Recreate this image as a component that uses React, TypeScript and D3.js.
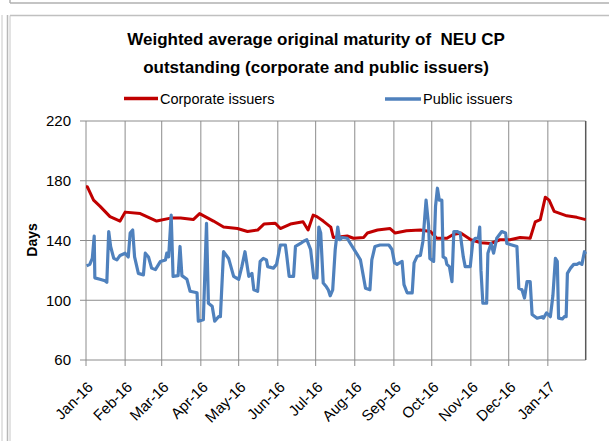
import React from 'react';
import * as d3 from 'd3';

// days since 1 Jan 2016
const corpDays = [0, 1, 6, 11, 19, 27, 31, 43, 56, 67, 75, 85, 90, 101, 109, 120, 128, 136, 141, 150, 154, 162, 172, 176, 180, 183, 188, 194, 196, 202, 207, 212, 220, 223, 231, 241, 245, 254, 265, 273, 278, 286, 291, 297, 305, 313, 321, 328, 336, 344, 352, 356, 360, 362, 364, 367, 371, 376, 381, 389, 396];
const corpValues = [176, 176, 167, 163, 156, 153, 159, 158, 153, 155, 155, 154, 158, 153, 149, 148, 146, 147, 151, 151.5, 148, 151, 152.5, 147, 157, 156, 153, 149, 142, 142.5, 143, 141.5, 142, 145, 147, 148, 145, 146.5, 147, 146, 141.5, 141.5, 144, 145, 140.5, 138.5, 138, 140.5, 140.5, 142, 141.5, 152.5, 154, 161.5, 169, 167, 159.5, 158, 156.5, 155.5, 154];

const publicDays = [0.5, 3, 5, 6.5, 7, 11, 15, 16.5, 18, 19.5, 22, 24.5, 27, 31, 33.5, 35, 37, 38.5, 41.5, 45.5, 47, 49.5, 52, 55, 59, 63, 64, 65.5, 67.5, 69, 73, 74.5, 76, 80, 82.5, 88, 89, 93, 95.5, 97, 100, 102, 105, 106.5, 109, 113, 117, 121, 123.5, 126, 129, 131.5, 133, 136, 138, 140.5, 143, 144, 148.5, 151, 154, 158, 159, 161, 164.5, 166, 170, 172.5, 175, 178, 180.5, 183, 184.5, 186, 188, 190.5, 192, 193.5, 195.5, 197.5, 199.5, 201, 203, 207, 209.5, 215, 217.5, 221.5, 225, 226.5, 229, 233, 240, 242.5, 244.5, 246.5, 250.5, 252, 254.5, 258.5, 260, 262.5, 265, 267, 269.5, 271.5, 272.5, 275.5, 277, 278.5, 280, 282, 283, 285, 286, 288, 290, 291.5, 294, 296.5, 299, 300.5, 304.5, 306.5, 308.5, 311, 312, 313, 314.5, 317.5, 318.5, 321, 323, 325.5, 329.5, 332.5, 333.5, 337.5, 341.5, 343, 345.5, 347.5, 349.5, 352, 353.5, 357.5, 361.5, 362.5, 365, 368, 370, 372, 373.5, 374.5, 377.5, 379, 380.5, 381.5, 384, 386.5, 389, 391, 393, 395, 396];
const publicValues = [123, 124, 128, 143, 115, 114, 113, 112, 146, 136, 128, 127, 130, 131.5, 129, 145, 147, 129, 118, 117, 131.5, 129, 121.5, 120.5, 126, 127, 131.5, 129, 157, 116, 116.5, 136, 116.5, 114, 106, 105, 86, 87, 151.5, 98, 96, 86, 89, 89, 132.5, 128, 116, 114, 122.5, 132.5, 116, 118, 107, 106, 126, 128, 127, 122.5, 121.5, 124, 137, 137, 130.5, 116, 116, 136, 138, 139.5, 140.5, 134, 115, 115, 149, 145, 111.5, 109, 107, 103, 107, 134, 149, 140.5, 142, 141.5, 138, 130.5, 127, 108, 107, 127, 136, 137, 137, 134, 125, 124, 126, 110.5, 105, 105, 125, 129.5, 130, 139.5, 167, 150, 128, 126, 163, 175, 167, 167, 129, 128, 124, 122.5, 112.5, 146, 146, 145, 129, 122.5, 122.5, 139, 141.5, 141.5, 149, 120, 98, 98, 131.5, 138, 131.5, 141.5, 146, 145, 138, 137, 136, 108, 107, 101.5, 112.5, 112.5, 90.5, 88, 89, 88, 91.5, 89, 103, 128, 126, 88, 87.5, 89, 89, 118, 121.5, 124, 124, 125, 124, 132.5, 131];

const yTicks = [60, 100, 140, 180, 220];
const monthTicks = ['2016-01', '2016-02', '2016-03', '2016-04', '2016-05', '2016-06', '2016-07', '2016-08', '2016-09', '2016-10', '2016-11', '2016-12', '2017-01'];
const titleLines = ['Weighted average original maturity of  NEU CP', 'outstanding (corporate and public issuers)'];

const start = new Date(2016, 0, 1);
const toDate = (d: number) => new Date(start.getTime() + d * 86400000);
const parseMonth = d3.timeParse('%Y-%m');
const fmt = d3.timeFormat('%b-%y');

const font = "'Liberation Sans', Arial, sans-serif";

export default function App() {
  const W = 609, H = 441;
  const left = 86, right = 585.7, top = 121, bottom = 360;

  const x = d3.scaleTime().domain([start, new Date(2017, 0, 31)]).range([left, right]);
  const y = d3.scaleLinear().domain([60, 220]).range([bottom, top]);

  const line = d3.line<[number, number]>()
    .x(d => x(toDate(d[0])))
    .y(d => y(d[1]));

  const corp = corpDays.map((d, i) => [d, corpValues[i]] as [number, number]);
  const pub = publicDays.map((d, i) => [d, publicValues[i]] as [number, number]);
  const months = monthTicks.map(m => parseMonth(m)!);

  return (
    <>
      <style>{`body{margin:0}`}</style>
      <svg width={W} height={H} style={{ display: 'block', background: '#fff' }}>
        {/* page frame bits */}
        <line x1={10} x2={W} y1={3} y2={3} stroke="#b0b0b0" strokeWidth={1.5} />
        <line x1={10} x2={10} y1={0} y2={3} stroke="#b0b0b0" strokeWidth={1.5} />
        <line x1={2} x2={2} y1={15} y2={H} stroke="#c8c8c8" strokeWidth={1} />
        <line x1={7.5} x2={7.5} y1={15} y2={H} stroke="#b8b8b8" strokeWidth={1.5} />
        <line x1={10} x2={W} y1={15.5} y2={15.5} stroke="#c0c0c0" strokeWidth={1.5} />
        <line x1={10} x2={10} y1={15.5} y2={H} stroke="#c8c8c8" strokeWidth={1} />

        {/* title */}
        {titleLines.map((t, i) => (
          <text key={t} x={316} y={45 + i * 28} textAnchor="middle" fontFamily={font}
            fontWeight="bold" fontSize={17} fill="#000" style={{ whiteSpace: 'pre' }}>{t}</text>
        ))}

        {/* legend */}
        <line x1={124} x2={158} y1={98.5} y2={98.5} stroke="#C00000" strokeWidth={3.5} />
        <text x={160} y={103.5} fontFamily={font} fontSize={14.5} fill="#000">Corporate issuers</text>
        <line x1={385} x2={421} y1={99} y2={99} stroke="#4F81BD" strokeWidth={3.5} />
        <text x={423} y={103.5} fontFamily={font} fontSize={14.5} fill="#000">Public issuers</text>

        {/* grid */}
        {yTicks.map(t => (
          <g key={t}>
            <line x1={left - 6} x2={right} y1={y(t)} y2={y(t)} stroke="#8c8c8c" strokeWidth={1} />
            <text x={71} y={y(t)} dy="0.35em" textAnchor="end" fontFamily={font} fontSize={15} fill="#000">{t}</text>
          </g>
        ))}
        {months.map(m => (
          <g key={m.getTime()}>
            <line x1={x(m)} x2={x(m)} y1={top} y2={bottom + 6} stroke="#8c8c8c" strokeWidth={1} />
            <text transform={`translate(${x(m) + 8},${bottom + 28}) rotate(-45)`} textAnchor="end"
              fontFamily={font} fontSize={15} fill="#000">{fmt(m)}</text>
          </g>
        ))}
        <line x1={right} x2={right} y1={top} y2={bottom} stroke="#595959" strokeWidth={1.5} />

        {/* y title */}
        <text transform={`translate(37,240) rotate(-90)`} textAnchor="middle" fontFamily={font}
          fontWeight="bold" fontSize={14} fill="#000">Days</text>

        {/* series */}
        <path d={line(corp) || ''} fill="none" stroke="#C00000" strokeWidth={3} strokeLinejoin="round" />
        <path d={line(pub) || ''} fill="none" stroke="#4F81BD" strokeWidth={3.2} strokeLinejoin="round" />
      </svg>
    </>
  );
}
